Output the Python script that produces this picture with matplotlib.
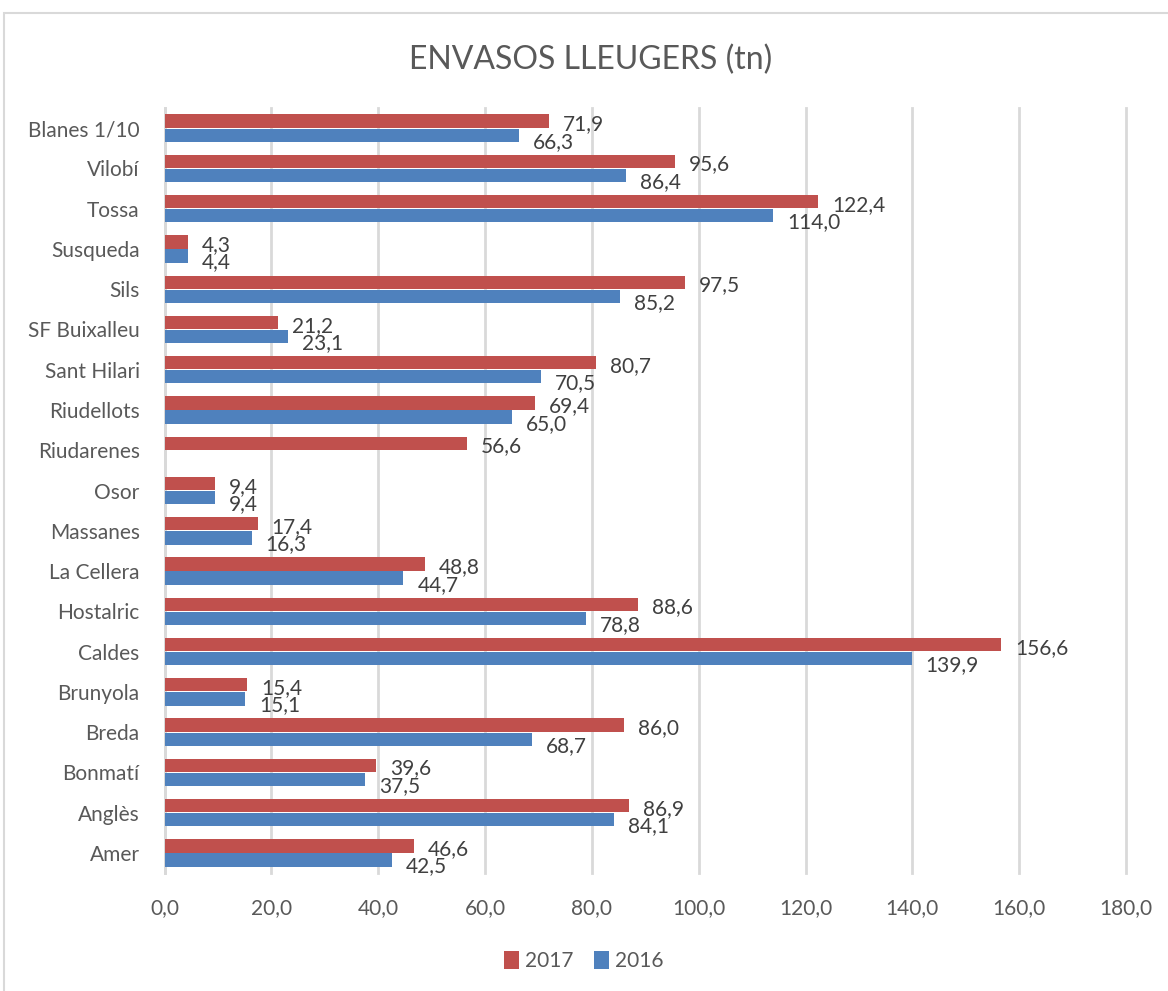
import numpy as np
import matplotlib
matplotlib.use("Agg")
import matplotlib.pyplot as plt
from matplotlib.patches import Rectangle

plt.rcParams['font.family'] = ['Lato', 'DejaVu Sans']

# data, bottom to top as drawn
municipis = ["Amer", "Anglès", "Bonmatí", "Breda", "Brunyola", "Caldes",
             "Hostalric", "La Cellera", "Massanes", "Osor", "Riudarenes",
             "Riudellots", "Sant Hilari", "SF Buixalleu", "Sils", "Susqueda",
             "Tossa", "Vilobí", "Blanes 1/10"]
v2017 = [46.6, 86.9, 39.6, 86.0, 15.4, 156.6, 88.6, 48.8, 17.4, 9.4, 56.6,
         69.4, 80.7, 21.2, 97.5, 4.3, 122.4, 95.6, 71.9]
v2016 = [42.5, 84.1, 37.5, 68.7, 15.1, 139.9, 78.8, 44.7, 16.3, 9.4, np.nan,
         65.0, 70.5, 23.1, 85.2, 4.4, 114.0, 86.4, 66.3]
xticks = [0, 20, 40, 60, 80, 100, 120, 140, 160, 180]

red = "#C0504D"
blue = "#4F81BD"
txt = "#595959"

fig = plt.figure(figsize=(11.68, 9.91), dpi=100)
ax = fig.add_axes([0.141, 0.119, 0.823, 0.772])

y = np.arange(len(municipis))
h = 0.33
ax.barh(y + h / 2 + 0.01, v2017, height=h, color=red, label="2017", zorder=3)
ax.barh(y - h / 2 - 0.01, v2016, height=h, color=blue, label="2016", zorder=3)

def fmt(v):
    return ("%.1f" % v).replace(".", ",")

for i in range(len(y)):
    ax.annotate(fmt(v2017[i]), (v2017[i], y[i] + h / 2), xytext=(10, -2),
                textcoords="offset points", va="center", ha="left",
                fontsize=15, color="#404040")
    if not np.isnan(v2016[i]):
        ax.annotate(fmt(v2016[i]), (v2016[i], y[i] - h / 2), xytext=(10, -5),
                    textcoords="offset points", va="center", ha="left",
                    fontsize=15, color="#404040")

ax.set_xlim(0, 180)
ax.set_ylim(-0.5, 18.5)
ax.set_xticks(xticks)
ax.set_xticklabels([fmt(t) for t in xticks], fontsize=15, color=txt)
ax.set_yticks(y)
ax.set_yticklabels(municipis, fontsize=15, color=txt)
ax.tick_params(axis="both", length=0)
ax.tick_params(axis="x", pad=18)
ax.tick_params(axis="y", pad=18)
ax.grid(axis="x", color="#d9d9d9", linewidth=2, zorder=0)
for gl in ax.get_xgridlines():
    gl.set_clip_on(False)
for s in ["top", "right", "bottom"]:
    ax.spines[s].set_visible(False)
ax.spines["left"].set_color("#d9d9d9")
ax.spines["left"].set_linewidth(2)

fig.text(0.506, 0.94, "ENVASOS LLEUGERS (tn)", ha="center", va="center",
         fontsize=23, color=txt)

ax.legend(loc="center", bbox_to_anchor=(0.5, 0.03), bbox_transform=fig.transFigure,
          ncol=2, frameon=False, fontsize=15, handlelength=0.7, handleheight=0.9,
          columnspacing=1.0, handletextpad=0.3, labelcolor=txt)

fig.patches.append(Rectangle((0.003, -0.01), 1.1, 0.997, transform=fig.transFigure,
                             fill=False, edgecolor="#d9d9d9", linewidth=1.5))

fig.savefig("out.png", dpi=100, facecolor="white")
